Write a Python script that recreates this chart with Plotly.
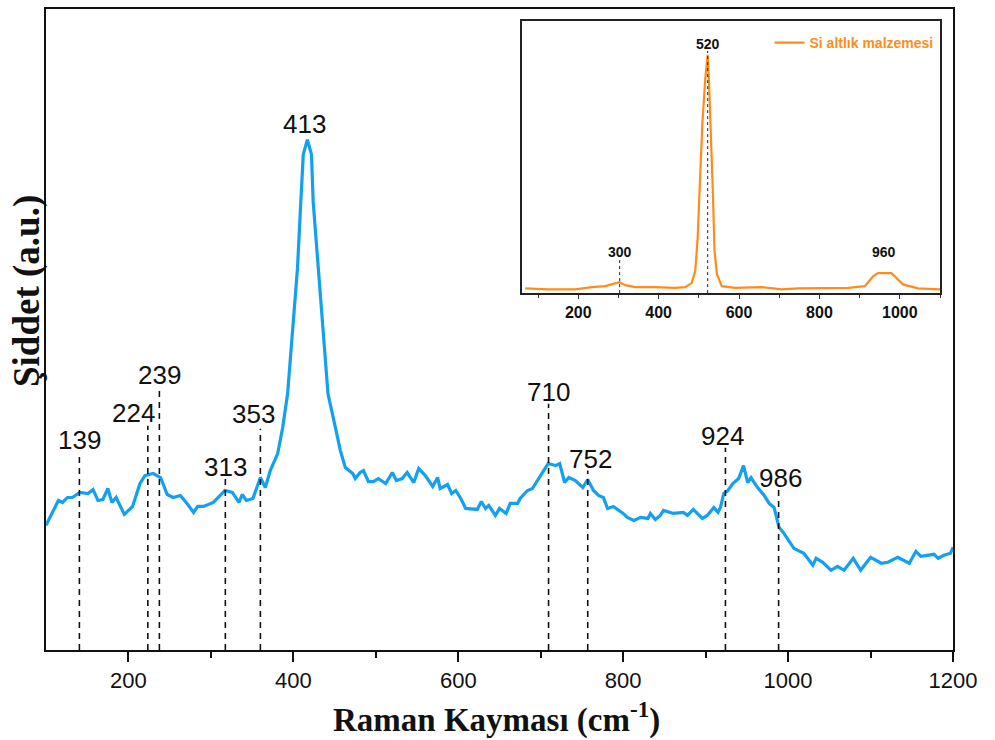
import plotly.graph_objects as go

# ---------------- main spectrum (Raman shift, intensity a.u.) ----------------
shift = [100, 115, 120, 126, 132, 138, 141, 151, 157, 163, 169, 175, 180, 185, 195, 205, 214, 220, 230, 239,
         247, 254, 263, 271, 279, 284, 291, 303, 317, 326, 334, 338, 343, 351, 360, 366, 372, 381, 387,
         393, 399, 405, 408, 412, 417, 422, 424, 430, 436, 442, 451, 457, 463, 472, 475,
         481, 485, 491, 497, 503, 512, 520, 525, 532, 538, 546, 552, 560, 569, 575, 578, 587, 592, 597, 603,
         609, 623, 628, 633, 637, 645, 650, 658, 663, 672, 675, 684, 690, 696, 703, 709, 718, 723, 729, 734,
         742, 751, 757, 764, 770, 776, 781, 788, 800, 805, 813, 821, 830, 833, 839, 845,
         849, 861, 873, 878, 885, 896, 902, 910, 915, 918, 922, 927, 933, 940, 946, 951, 955, 963, 971, 977,
         983, 989, 995, 1007, 1019, 1030, 1034, 1042, 1052, 1060, 1068, 1079, 1088, 1100, 1113, 1121, 1133,
         1147, 1155, 1161, 1177, 1182, 1189, 1197, 1200]
intensity = [125, 150, 148, 153, 153, 157, 158, 157, 161, 150, 151, 162, 148, 153, 136, 144, 167, 175, 177, 173,
             156, 153, 155, 147, 138, 144, 144, 148, 160, 158, 148, 156, 150, 152, 173, 163, 180, 197, 223,
             257, 317, 383, 433, 497, 512, 497, 450, 383, 317, 257, 223, 200, 183, 177, 172,
             178, 180, 169, 169, 172, 167, 178, 170, 172, 178, 168, 182, 175, 164, 173, 162, 166, 157, 160, 152,
             142, 141, 149, 142, 145, 135, 142, 137, 147, 147, 152, 160, 162, 170, 180, 187, 185, 187, 168, 173,
             170, 163, 171, 160, 155, 153, 142, 144, 137, 133, 130, 133, 132, 137, 131, 135,
             140, 137, 138, 135, 141, 132, 135, 143, 138, 143, 157, 160, 167, 172, 185, 168, 173, 163, 155, 147,
             143, 123, 117, 102, 97, 85, 92, 88, 80, 84, 80, 92, 80, 93, 87, 88, 93,
             87, 99, 94, 96, 92, 95, 97, 103]

# peak markers of the main spectrum
peak_labels = ["139", "224", "239", "313", "353", "710", "752", "924", "986"]
peak_pos = [140.5, 223.5, 237.5, 317.5, 360, 709.5, 757, 924, 988.5]
peak_top = [198, 225, 262, 173, 222, 247, 180, 203, 162]
label_x = [140.5, 206, 237.5, 317.5, 352, 709.5, 760, 921, 991]
label_y = [211, 238, 276, 184, 237, 259, 192, 215, 173]
main_peak_label = "413"
main_peak_xy = (413, 528)

# ---------------- inset: Si substrate ----------------
si_shift = [68, 126, 193, 234, 267, 292, 302, 317, 342, 391, 441, 466, 482, 491, 497, 503, 509, 516, 522,
            525, 530, 535, 539, 545, 557, 590, 656, 706, 747, 814, 872, 913, 934, 946, 979, 992, 1008, 1045,
            1095, 1100]
si_int = [4.7, 3.7, 3.7, 6, 7, 10, 11, 8, 6, 6, 5.3, 6, 10, 22, 55, 115, 172, 215, 239,
          215, 165, 99, 42, 19, 7, 5.3, 6, 3.7, 4.7, 5.3, 5.3, 7, 17, 20, 20, 15, 8.7, 4.7,
          3.7, 3.7]
si_labels = ["300", "520", "960"]
si_label_x = [303, 522, 960]
si_label_y = [41, 250, 41]
si_line_pos = [303, 522]
si_line_top = [35, 243]
si_name = "Si altlık malzemesi"

x_title = "Raman Kayması (cm<sup>-1</sup>)"
y_title = "Şiddet (a.u.)"

BLUE = "#13a0f0"
ORANGE = "#ff8c1a"
ARIAL = "Liberation Sans"
TIMES = "Liberation Serif"

fig = go.Figure()

# main curve
fig.add_trace(go.Scatter(x=shift, y=intensity, mode="lines",
                         line=dict(color=BLUE, width=3.2), showlegend=False,
                         xaxis="x", yaxis="y"))

# dashed marker lines
lx, ly = [], []
for p, t in zip(peak_pos, peak_top):
    lx += [p, p, None]
    ly += [0, t, None]
fig.add_trace(go.Scatter(x=lx, y=ly, mode="lines",
                         line=dict(color="#111111", width=1.6, dash="6px,5px"),
                         showlegend=False, xaxis="x", yaxis="y"))

# inset curve
fig.add_trace(go.Scatter(x=si_shift, y=si_int, mode="lines", name=si_name,
                         line=dict(color=ORANGE, width=2.2), showlegend=True,
                         xaxis="x2", yaxis="y2"))
ix, iy = [], []
for p, t in zip(si_line_pos, si_line_top):
    ix += [p, p, None]
    iy += [0, t, None]
fig.add_trace(go.Scatter(x=ix, y=iy, mode="lines",
                         line=dict(color="#222222", width=1, dash="dot"),
                         showlegend=False, xaxis="x2", yaxis="y2"))

annotations = []
for lab, x, y in zip(peak_labels, label_x, label_y):
    annotations.append(dict(x=x, y=y, xref="x", yref="y", text=lab, showarrow=False,
                            font=dict(family=ARIAL, size=26, color="#111111"),
                            xanchor="center", yanchor="middle"))
annotations.append(dict(x=main_peak_xy[0], y=main_peak_xy[1], xref="x", yref="y",
                        text=main_peak_label, showarrow=False,
                        font=dict(family=ARIAL, size=26, color="#111111"),
                        xanchor="center", yanchor="middle"))
for lab, x, y in zip(si_labels, si_label_x, si_label_y):
    annotations.append(dict(x=x, y=y, xref="x2", yref="y2", text=lab, showarrow=False,
                            font=dict(family=ARIAL, size=14, color="#111111", weight="bold"),
                            xanchor="center", yanchor="middle"))
annotations.append(dict(x=0.497, y=-0.105, xref="paper", yref="paper", text=x_title,
                        showarrow=False, xanchor="center", yanchor="middle",
                        font=dict(family=TIMES, size=33, color="#111111", weight="bold")))
annotations.append(dict(x=-0.021, y=0.56, xref="paper", yref="paper", text=y_title,
                        showarrow=False, textangle=-90, xanchor="center", yanchor="middle",
                        font=dict(family=TIMES, size=37, color="#111111", weight="bold")))

fig.update_layout(
    width=995, height=740,
    margin=dict(l=46, r=42, t=7, b=90),
    paper_bgcolor="white", plot_bgcolor="white",
    annotations=annotations,
    xaxis=dict(domain=[0, 1], range=[100, 1200], tickvals=[200, 400, 600, 800, 1000, 1200],
               ticks="outside", ticklen=10, tickwidth=2, tickcolor="#111111",
               minor=dict(tickvals=[300, 500, 700, 900, 1100], ticks="outside", ticklen=6,
                          tickwidth=2, tickcolor="#111111"),
               showline=True, linecolor="#111111", linewidth=2, mirror=True,
               showgrid=False, zeroline=False,
               tickfont=dict(family=ARIAL, size=22, color="#111111")),
    yaxis=dict(domain=[0, 1], range=[0, 643], showticklabels=False, ticks="",
               showline=True, linecolor="#111111", linewidth=2, mirror=True,
               showgrid=False, zeroline=False),
    xaxis2=dict(domain=[0.5248, 0.9857], anchor="y2", range=[60, 1100],
                tickvals=[200, 400, 600, 800, 1000],
                ticks="outside", ticklen=4, tickwidth=1, tickcolor="#333333",
                minor=dict(tickvals=[100, 300, 500, 700, 900, 1100], ticks="outside", ticklen=3,
                           tickwidth=1, tickcolor="#333333"),
                showline=True, linecolor="#222222", linewidth=1.5, mirror=True,
                showgrid=False, zeroline=False,
                tickfont=dict(family=ARIAL, size=16, color="#111111", weight="bold")),
    yaxis2=dict(domain=[0.5568, 0.9813], anchor="x2", range=[0, 273], showticklabels=False,
                ticks="", showline=True, linecolor="#222222", linewidth=1.5, mirror=True,
                showgrid=False, zeroline=False),
    legend=dict(x=0.984, y=0.972, xanchor="right", yanchor="top",
                bgcolor="rgba(0,0,0,0)", borderwidth=0,
                font=dict(family=ARIAL, size=14, color=ORANGE, weight="bold"),
                itemwidth=30, tracegroupgap=0),
)

fig.write_html("out.html")
